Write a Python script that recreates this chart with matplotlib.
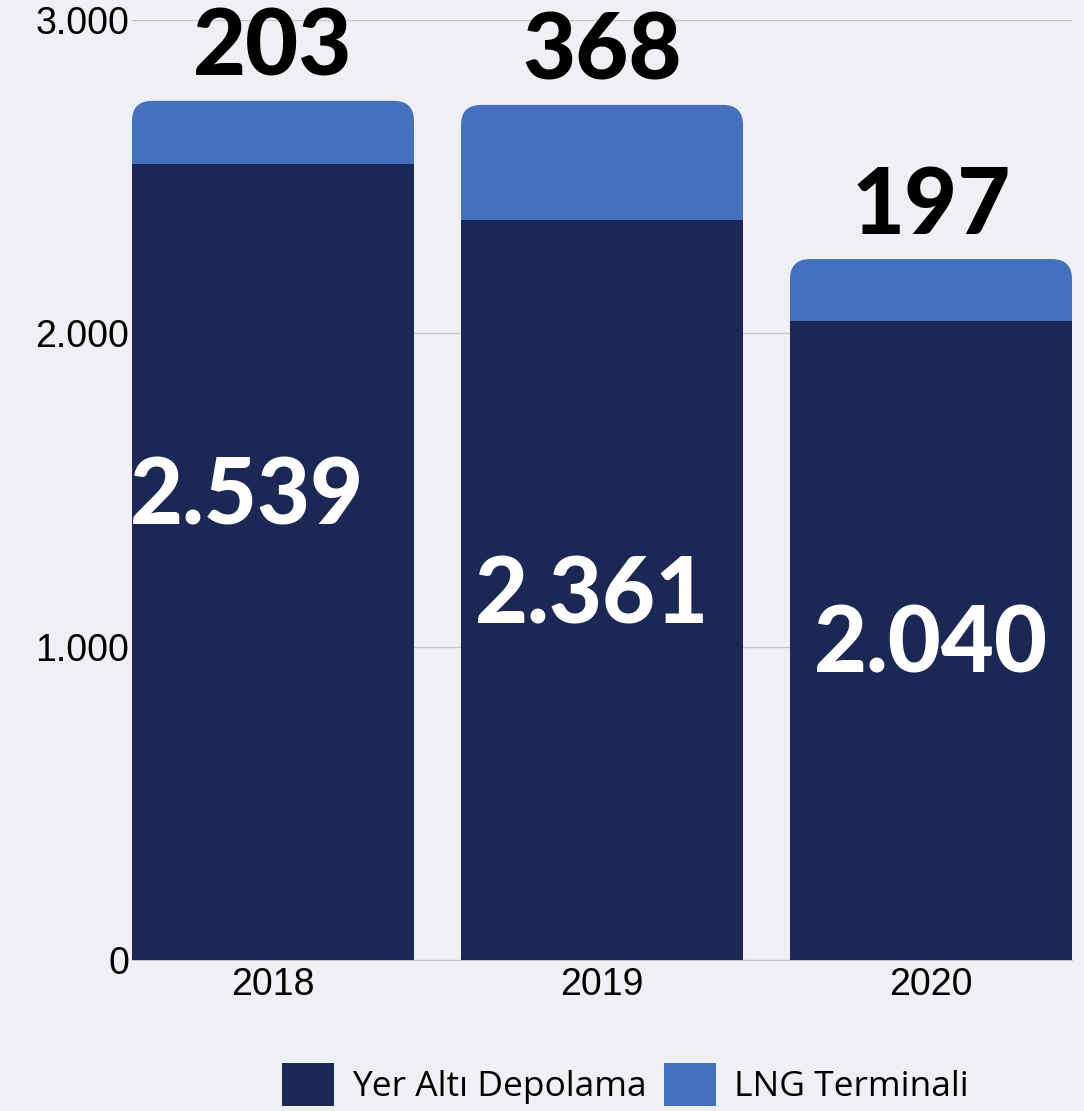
import numpy as np
import matplotlib.pyplot as plt
from matplotlib.patches import FancyBboxPatch, Rectangle, Patch

years = ["2018", "2019", "2020"]
yer_alti = [2539, 2361, 2040]
lng = [203, 368, 197]
yer_alti_labels = ["2.539", "2.361", "2.040"]
lng_labels = ["203", "368", "197"]
yticks = [0, 1000, 2000, 3000]
ytick_labels = ["0", "1.000", "2.000", "3.000"]
series = ["Yer Altı Depolama", "LNG Terminali"]

dark = "#1b2754"
blue = "#4470bd"
bg = "#eff0f4"

fig = plt.figure(figsize=(10.84, 11.11), dpi=100, facecolor=bg)
ax = fig.add_axes([132 / 1084, 1 - 960 / 1111, 940 / 1084, 940 / 1111])
ax.set_facecolor(bg)

x = np.arange(len(years))
w = 0.857
b1 = ax.bar(x, yer_alti, width=w, color=dark, zorder=3)
b2 = ax.bar(x, lng, width=w, bottom=yer_alti, color=blue, zorder=2)

ax.set_xlim(-w / 2, len(years) - 1 + w / 2)
ax.set_ylim(0, 3000)

# rounded top corners for the blue segments
rx = 0.061
aspect = (3000 / 940) / ((len(years) - 1 + w) / 940)
for rect in b2:
    rect.set_visible(False)
    bx, by = rect.get_x(), rect.get_y()
    bw, bh = rect.get_width(), rect.get_height()
    ax.add_patch(FancyBboxPatch((bx, by), bw, bh,
                                boxstyle=f"round,pad=0,rounding_size={rx}",
                                mutation_aspect=aspect, fc=blue, ec="none", zorder=2))
    ax.add_patch(Rectangle((bx, by), bw, bh / 2, fc=blue, ec="none", zorder=2))

# labels
lab_font = dict(family=["Lato", "DejaVu Sans"], fontweight="black", fontsize=66)
inner_frac = [0.58, 0.49, 0.49]
inner_dx = [-0.08, -0.03, 0.0]
for i in range(len(years)):
    ax.text(x[i], yer_alti[i] + lng[i] + 30, lng_labels[i], ha="center", va="bottom",
            color="black", zorder=5, **lab_font)
    ax.text(x[i] + inner_dx[i], yer_alti[i] * inner_frac[i], yer_alti_labels[i],
            ha="center", va="center", color="white", zorder=5, **lab_font)

ax.set_yticks(yticks)
ax.set_yticklabels(ytick_labels)
ax.set_xticks(x)
ax.set_xticklabels(years)
for t in ax.get_xticklabels() + ax.get_yticklabels():
    t.set_family("Liberation Sans")
    t.set_fontsize(27)
ax.tick_params(axis="y", length=0, pad=2)
ax.tick_params(axis="x", length=0, pad=5)
ax.grid(axis="y", color="#c8c8cc", linewidth=1, zorder=0)
for s in ["top", "right", "left"]:
    ax.spines[s].set_visible(False)
ax.spines["bottom"].set_color("#c8c8cc")

handles = [Patch(fc=dark, label=series[0]), Patch(fc=blue, label=series[1])]
fig.legend(handles=handles, loc="lower center", bbox_to_anchor=(0.577, -0.024), ncol=2,
           frameon=False, prop=dict(family=["Open Sans", "DejaVu Sans"], weight="medium", size=25.5),
           handlelength=1.47, handleheight=1.47, handletextpad=0.5, columnspacing=0.5)

fig.savefig("out.png", dpi=100, facecolor=bg)
